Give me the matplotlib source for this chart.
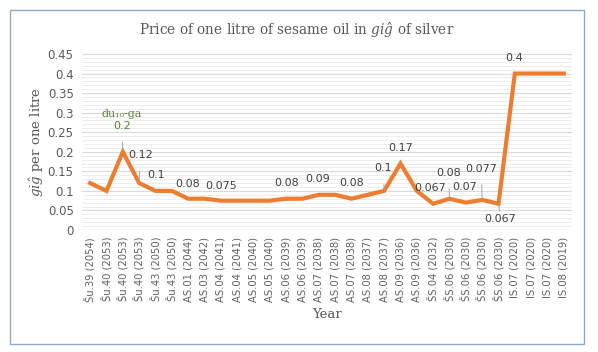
import numpy as np
import matplotlib
matplotlib.use("Agg")
import matplotlib.pyplot as plt
from matplotlib.patches import Rectangle
from matplotlib.ticker import MultipleLocator

plt.rcParams['mathtext.fontset'] = 'dejavuserif'

# data
years = ["Šu.39 (2054)", "Šu.40 (2053)", "Šu.40 (2053)", "Šu.40 (2053)",
         "Šu.43 (2050)", "Šu.43 (2050)", "AS.01 (2044)", "AS.03 (2042)",
         "AS.04 (2041)", "AS.04 (2041)", "AS.05 (2040)", "AS.05 (2040)",
         "AS.06 (2039)", "AS.06 (2039)", "AS.07 (2038)", "AS.07 (2038)",
         "AS.07 (2038)", "AS.08 (2037)", "AS.08 (2037)", "AS.09 (2036)",
         "AS.09 (2036)", "ŠS.04 (2032)", "ŠS.06 (2030)", "ŠS.06 (2030)",
         "ŠS.06 (2030)", "ŠS.06 (2030)", "IS.07 (2020)", "IS.07 (2020)",
         "IS.07 (2020)", "IS.08 (2019)"]
price = [0.12, 0.1, 0.2, 0.12, 0.1, 0.1, 0.08, 0.08, 0.075, 0.075,
         0.075, 0.075, 0.08, 0.08, 0.09, 0.09, 0.08, 0.09, 0.1, 0.17,
         0.1, 0.067, 0.08, 0.07, 0.077, 0.067, 0.4, 0.4, 0.4, 0.4]

# which points get a data label
label_idx = [2, 3, 4, 6, 8, 12, 14, 16, 18, 19, 21, 22, 23, 24, 25, 26]
label_txt = ["0.2", "0.12", "0.1", "0.08", "0.075", "0.08", "0.09", "0.08",
             "0.1", "0.17", "0.067", "0.08", "0.07", "0.077", "0.067", "0.4"]

# label offsets in pixels (dx, dy) and whether a leader line is drawn
offsets = {2: (-1, 26, True), 3: (1, 28, True), 4: (1, 16, False),
           6: (-1, 15, False), 8: (0, 15, False), 12: (0, 16, False),
           14: (-1, 16, False), 16: (0, 16, False), 18: (-1, 23, True),
           19: (0, 16, False), 21: (-3, 16, False), 22: (-1, 26, True),
           23: (-1, 16, False), 24: (-1, 31, True), 25: (2, -15, True),
           26: (-1, 16, False)}

fig = plt.figure(figsize=(5.98, 3.52), dpi=100)
fig.patches.append(Rectangle((10 / 598, 1 - 344 / 352), 574 / 598, 334 / 352,
                             transform=fig.transFigure, fill=False,
                             edgecolor="#8EA9C1", lw=1.0))

ax = fig.add_axes([82 / 598, 1 - 230 / 352, 490 / 598, 176 / 352])
x = np.arange(len(price))
ax.plot(x, price, color="#ED7D31", lw=3.0, solid_joinstyle="miter", zorder=3)

ax.set_xlim(-0.5, len(price) - 0.5)
ax.set_ylim(0, 0.45)
ax.yaxis.set_major_locator(MultipleLocator(0.05))
ax.yaxis.set_minor_locator(MultipleLocator(0.01))
ax.grid(which="major", axis="y", color="#D9D9D9", lw=0.8)
ax.grid(which="minor", axis="y", color="#EDEDED", lw=0.7)
ax.set_axisbelow(True)
for s in ax.spines.values():
    s.set_visible(False)
ax.tick_params(axis="both", which="both", length=0)
ax.tick_params(axis="y", labelsize=8.5, labelcolor="#595959", pad=6)

ax.set_yticks(np.arange(0, 0.46, 0.05))
ax.set_yticklabels([f"{v:g}" for v in np.round(np.arange(0, 0.46, 0.05), 2)])
ax.set_xticks(x)
ax.set_xticklabels(years, rotation=90, fontsize=7.2, color="#606060")
ax.tick_params(axis="x", pad=5)

for i, t in zip(label_idx, label_txt):
    dx, dy, lead = offsets[i]
    col = "#548235" if i == 2 else "#404040"
    ap = dict(arrowstyle="-", color="#A6A6A6", lw=0.7, shrinkA=6, shrinkB=1) if lead else None
    ax.annotate(t, (x[i], price[i]), xytext=(dx, dy), textcoords="offset pixels",
                ha="center", va="center", fontsize=8, color=col,
                arrowprops=ap, zorder=4)
ax.annotate("du₁₀-ga", (x[2], price[2]), xytext=(-1, 38), textcoords="offset pixels",
            ha="center", va="center", fontsize=8, color="#548235", family="DejaVu Serif")

fig.text(297 / 598, 1 - 30 / 352,
         r"Price of one litre of sesame oil in $gi\hat{g}$ of silver",
         ha="center", va="center", fontsize=9.8, color="#595959", family="DejaVu Serif")
ax.set_ylabel(r"$gi\hat{g}$ per one litre", fontsize=9.5, color="#595959",
              family="DejaVu Serif", labelpad=1)
ax.set_xlabel("Year", fontsize=9.5, color="#595959", family="DejaVu Serif", labelpad=4)

fig.savefig("out.png", dpi=100)
